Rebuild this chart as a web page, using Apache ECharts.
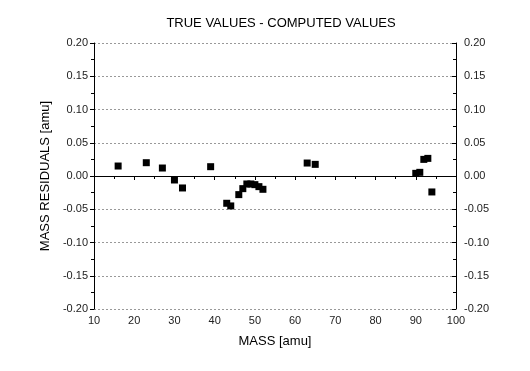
<!DOCTYPE html>
<html><head><meta charset="utf-8">
<script src="https://cdn.jsdelivr.net/npm/echarts@6/dist/echarts.min.js"></script>
<style>html,body{margin:0;padding:0;background:#fff}#c{width:530px;height:371px}</style>
</head><body><div id="c"></div>
<script>
var masses = [16, 23, 27, 30, 32, 39, 43, 44, 46, 47, 48, 49, 50, 51, 52, 63, 65, 90, 91, 92, 93, 94];
var residuals = [0.015, 0.020, 0.012, -0.006, -0.018, 0.014, -0.041, -0.045, -0.028, -0.019, -0.012, -0.012, -0.013, -0.016, -0.020, 0.0195, 0.0175, 0.004, 0.0055, 0.025, 0.0265, -0.024];
var title = 'TRUE VALUES - COMPUTED VALUES';
var xName = 'MASS [amu]';
var yName = 'MASS RESIDUALS [amu]';

var font = 'Liberation Sans, Arial, sans-serif';
var data = masses.map(function(m, i){ return [m, residuals[i]]; });
var chart = echarts.init(document.getElementById('c'), null, {renderer:'canvas'});
var lblY = {fontFamily: font, fontSize: 11, color: '#222', formatter: function(v){ return v.toFixed(2); }};
chart.setOption({
  animation: false,
  backgroundColor: '#fff',
  title: {text: title, left: 276, top: 12, textAlign: 'center',
    textStyle: {fontFamily: font, fontSize: 13, fontWeight: 'normal', color: '#000'}},
  grid: {left: 94, right: 74, top: 43, bottom: 62},
  xAxis: [{
    type: 'value', position: 'bottom', min: 10, max: 100, interval: 10,
    name: xName, nameLocation: 'middle', nameGap: 26,
    nameTextStyle: {fontFamily: font, fontSize: 13, color: '#000'},
    axisLine: {lineStyle: {color: '#000', width: 1}},
    axisTick: {inside: false, length: 4, lineStyle: {color: '#000'}},
    minorTick: {show: true, splitNumber: 2, length: 3, lineStyle: {color: '#000'}},
    axisLabel: {fontFamily: font, fontSize: 11, color: '#222', margin: 6},
    splitLine: {show: false}
  }, {
    type: 'value', position: 'top', min: 10, max: 100, interval: 10,
    axisLine: {lineStyle: {color: '#000', width: 1}},
    axisTick: {inside: true, length: 4, lineStyle: {color: '#000'}},
    minorTick: {show: true, splitNumber: 2, length: 3, lineStyle: {color: '#000'}},
    axisLabel: {show: false},
    splitLine: {show: false}
  }],
  yAxis: [{
    type: 'value', position: 'left', min: -0.2, max: 0.2, interval: 0.05,
    name: yName, nameLocation: 'middle', nameGap: 38,
    nameTextStyle: {fontFamily: font, fontSize: 13, color: '#000'},
    axisLine: {lineStyle: {color: '#000', width: 1}},
    axisTick: {inside: false, length: 4, lineStyle: {color: '#000'}},
    minorTick: {show: true, splitNumber: 2, length: 3, lineStyle: {color: '#000'}},
    axisLabel: Object.assign({margin: 6}, lblY),
    splitLine: {show: true, lineStyle: {color: '#999', type: [2, 2], width: 1}}
  }, {
    type: 'value', position: 'right', min: -0.2, max: 0.2, interval: 0.05,
    axisLine: {lineStyle: {color: '#000', width: 1}},
    axisTick: {inside: true, length: 4, lineStyle: {color: '#000'}},
    minorTick: {show: true, splitNumber: 2, length: 3, lineStyle: {color: '#000'}},
    axisLabel: Object.assign({margin: 8}, lblY),
    splitLine: {show: false}
  }],
  series: [{
    type: 'scatter', xAxisIndex: 0, yAxisIndex: 0,
    symbol: 'rect', symbolSize: 7,
    itemStyle: {color: '#000', opacity: 1},
    data: data,
    markLine: {silent: true, symbol: 'none', label: {show: false},
      lineStyle: {color: '#000', type: 'solid', width: 1},
      data: [{yAxis: 0}]}
  }]
});
</script></body></html>
